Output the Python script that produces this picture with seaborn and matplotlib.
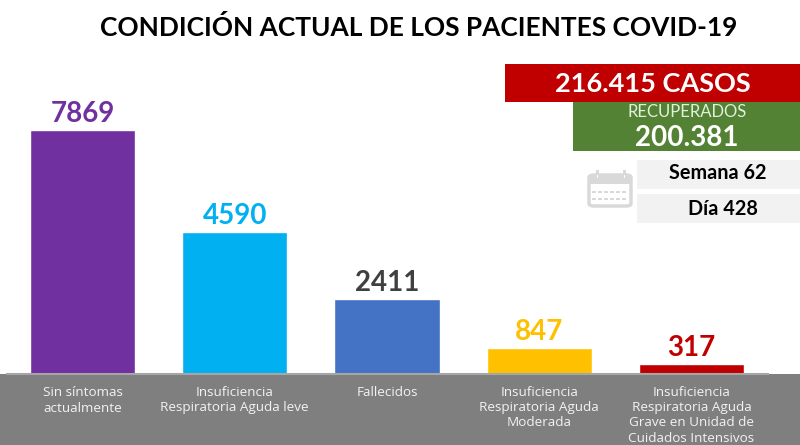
import pandas as pd
import matplotlib
matplotlib.use("Agg")
import matplotlib.pyplot as plt
from matplotlib.patches import Rectangle, FancyBboxPatch
import seaborn as sns

# datos
categorias = ['Sin síntomas\nactualmente', 'Insuficiencia\nRespiratoria Aguda leve', 'Fallecidos',
              'Insuficiencia\nRespiratoria Aguda\nModerada',
              'Insuficiencia\nRespiratoria Aguda\nGrave en Unidad de\nCuidados Intensivos']
valores = [7869, 4590, 2411, 847, 317]
colores = ['#7030a0', '#00b0f0', '#4472c4', '#ffc000', '#c00000']
colores_texto = ['#7030a0', '#00b0f0', '#404040', '#ffc000', '#c00000']

titulo = 'CONDICIÓN ACTUAL DE LOS PACIENTES COVID-19'
total_casos = '216.415 CASOS'
recuperados = '200.381'
semana = 'Semana 62'
dia = 'Día 428'

W, H = 800, 445

sns.set_theme(style="white")
plt.rcParams['font.family'] = ['Lato', 'DejaVu Sans']

fig = plt.figure(figsize=(W / 100, H / 100), dpi=100)

# todo en pixeles de la imagen, y hacia abajo
def caja(x0, y0, x1, y1, color, z=1):
    fig.add_artist(Rectangle((x0 / W, 1 - y1 / H), (x1 - x0) / W, (y1 - y0) / H,
                             transform=fig.transFigure, facecolor=color, edgecolor='none', zorder=z))

def texto(x, y, s, **kw):
    fig.text(x / W, 1 - y / H, s, ha='center', va='center', **kw)

# franja gris de abajo
caja(0, 374, W, H, '#7f7f7f', z=0)

ax = fig.add_axes([6.5 / W, 1 - 374 / H, 761 / W, 324 / H])
ax.patch.set_alpha(0)
df = pd.DataFrame({'categoria': categorias, 'valor': valores})
sns.barplot(data=df, x='categoria', y='valor', hue='categoria', palette=colores,
            legend=False, width=0.69, saturation=1, ax=ax)
ax.set_xlim(-0.5, 4.5)
ax.set_ylim(0, 7869 * 324 / 244)
ax.set_xlabel('')
ax.set_ylabel('')
ax.set_yticks([])
ax.tick_params(axis='x', length=0, pad=9, labelsize=9.7, labelcolor='#f2f2f2')
ax.set_xticks(range(5))
ax.set_xticklabels(categorias, linespacing=1.2, family='Open Sans')
sns.despine(ax=ax, left=True)
ax.spines['bottom'].set_color('#a6a6a6')
ax.spines['bottom'].set_linewidth(1.5)

# numeros encima de las barras
for i, v in enumerate(valores):
    ax.annotate(str(v), (i, v), xytext=(0, 2), textcoords='offset points', ha='center', va='bottom',
                fontsize=20, fontweight='bold', color=colores_texto[i])

texto(419, 27, titulo, fontsize=18.9, fontweight='bold', color='black')

# cuadros de la derecha
caja(505, 64, W, 102, '#c00000')
texto(653, 84, total_casos, fontsize=19.5, fontweight='bold', color='white')
caja(573, 102, W, 151, '#548235')
texto(687, 112, 'RECUPERADOS', fontsize=12, color='#e2f0d9')
texto(687, 138, recuperados, fontsize=20, fontweight='bold', color='white')
caja(637, 160, W, 189, '#f2f2f2')
texto(718, 173, semana, fontsize=14.3, fontweight='bold', color='black')
caja(637, 194, W, 223, '#f2f2f2')
texto(723, 209, dia, fontsize=14.3, fontweight='bold', color='black')

# icono de calendario
gris = '#d9d9d9'
fig.add_artist(FancyBboxPatch((589 / W, 1 - 206 / H), 42 / W, 31 / H, boxstyle='round,pad=0,rounding_size=0.006',
                              transform=fig.transFigure, facecolor='white', edgecolor=gris, linewidth=2.5, zorder=2))
caja(588, 175, 632, 184, gris, z=3)
for xc in (597, 624):
    caja(xc - 1.5, 170, xc + 1.5, 179, gris, z=4)
    caja(xc - 0.5, 175, xc + 0.5, 178, 'white', z=5)
for yc in (192, 199):
    for xc in (594, 600, 606, 612, 618, 624):
        caja(xc - 2, yc - 1.5, xc + 2, yc + 1.5, gris, z=3)

fig.savefig('out.png', dpi=100)
